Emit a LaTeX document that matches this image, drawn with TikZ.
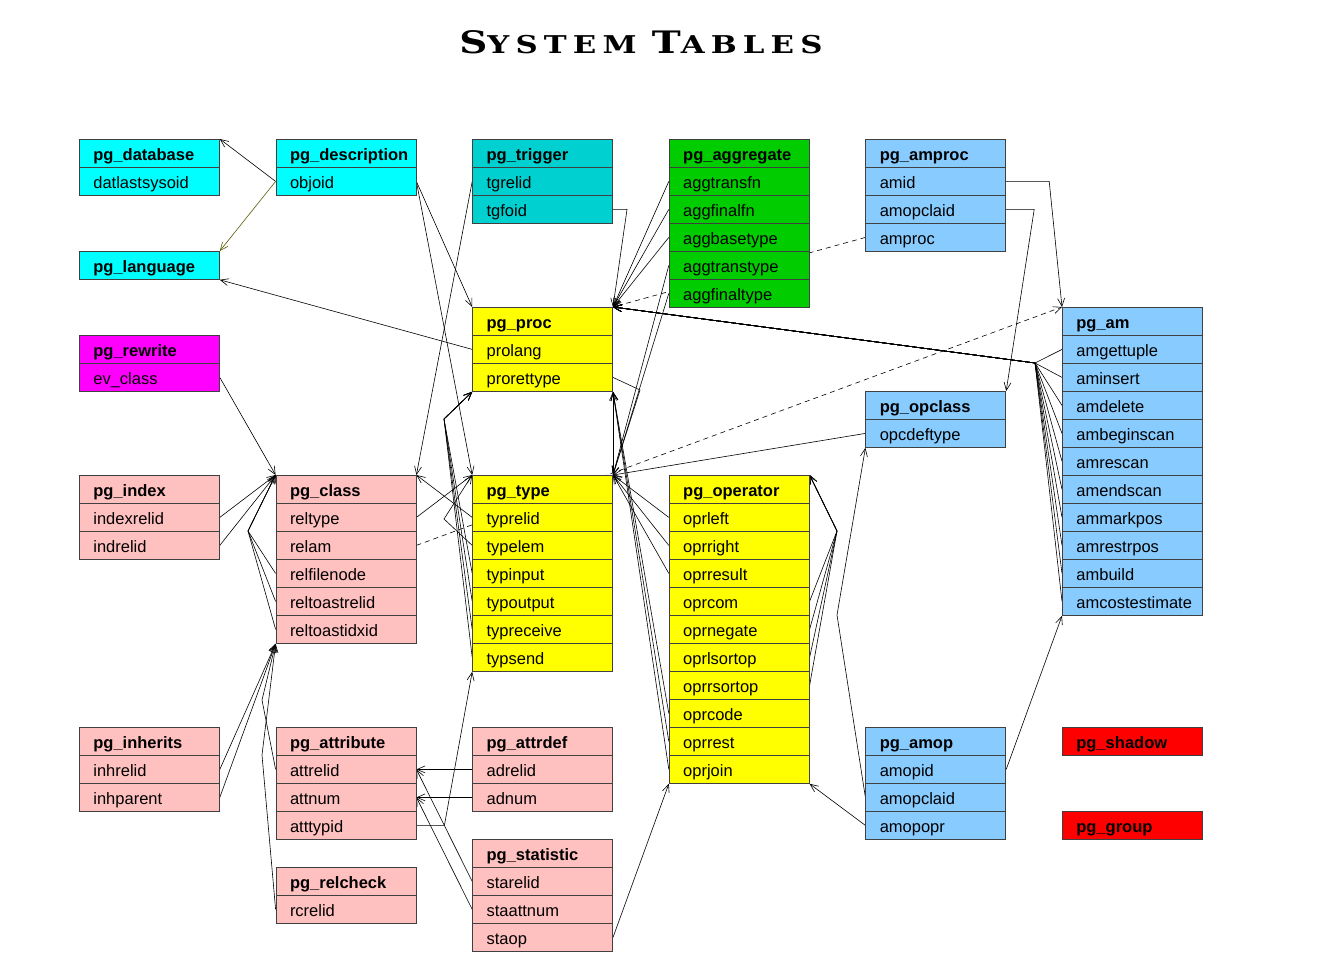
\documentclass[tikz,border=0pt]{standalone}
\usepackage{fontspec}
\usepackage{graphicx}
\setmainfont{Liberation Sans}
\newfontfamily\titlefont[LetterSpace=20]{DejaVu Serif}
\usetikzlibrary{arrows.meta}
\pgfdeclarelayer{bg}
\pgfsetlayers{bg,main}
\definecolor{cyanT}{HTML}{00FFFF}
\definecolor{tealT}{HTML}{00D0D0}
\definecolor{greenT}{HTML}{00CC00}
\definecolor{blueT}{HTML}{88CCFF}
\definecolor{yellowT}{HTML}{FFFF00}
\definecolor{magT}{HTML}{FF00FF}
\definecolor{pinkT}{HTML}{FFC0C0}
\definecolor{redT}{HTML}{FF0000}
\definecolor{oliveL}{HTML}{5A5A00}
\newcommand\mktab[6]{%
  \node[hdrbox, fill=#4] (#1-0) at ({79+196.6*#2},{139+28*#3}) {#5};
  \foreach \ff [count=\ii] in {#6} {%
    \node[fldbox, fill=#4] (#1-\ii) at ({79+196.6*#2},{139+28*(#3+\ii)}) {\ff};}%
}
\begin{document}
\begin{tikzpicture}[x=1pt,y=-1pt,
  rowbox/.style={draw=black!75, line width=0.8pt, anchor=north west,
    minimum width=140pt, minimum height=28pt, text width=112pt,
    inner xsep=14pt, inner ysep=0pt, align=left, text height=14pt, text depth=0pt},
  hdrbox/.style={rowbox, font=\fontsize{16.5}{18}\selectfont\bfseries},
  fldbox/.style={rowbox, font=\fontsize{16.5}{18}\selectfont},
  link/.style={draw=black, line width=0.6pt, -{Straight Barb[length=8pt,width=7pt]}},
  dlink/.style={link, dash pattern=on 5pt off 4pt}]
\begin{pgfonlayer}{bg}
\fill[white] (0,0) rectangle (1323,961);
\end{pgfonlayer}
\useasboundingbox (0,0) rectangle (1323,961);

% title
\node[anchor=base] (title) at (641,53) {\scalebox{1.08}[0.86]{\titlefont\bfseries
  {\fontsize{36}{36}\selectfont S}{\fontsize{28.5}{28.5}\selectfont YSTEM}\hspace{14pt}{\fontsize{36}{36}\selectfont T}{\fontsize{28.5}{28.5}\selectfont ABLES}}};

% tables
\mktab{db}{0}{0}{cyanT}{pg\_database}{datlastsysoid}
\mktab{desc}{1}{0}{cyanT}{pg\_description}{objoid}
\mktab{trig}{2}{0}{tealT}{pg\_trigger}{tgrelid,tgfoid}
\mktab{agg}{3}{0}{greenT}{pg\_aggregate}{aggtransfn,aggfinalfn,aggbasetype,aggtranstype,aggfinaltype}
\mktab{amproc}{4}{0}{blueT}{pg\_amproc}{amid,amopclaid,amproc}
\node[hdrbox, fill=cyanT] (lang-0) at (79,251) {pg\_language};
\mktab{rw}{0}{7}{magT}{pg\_rewrite}{ev\_class}
\mktab{proc}{2}{6}{yellowT}{pg\_proc}{prolang,prorettype}
\mktab{am}{5}{6}{blueT}{pg\_am}{amgettuple,aminsert,amdelete,ambeginscan,amrescan,amendscan,ammarkpos,amrestrpos,ambuild,amcostestimate}
\mktab{opc}{4}{9}{blueT}{pg\_opclass}{opcdeftype}
\mktab{idx}{0}{12}{pinkT}{pg\_index}{indexrelid,indrelid}
\mktab{cls}{1}{12}{pinkT}{pg\_class}{reltype,relam,relfilenode,reltoastrelid,reltoastidxid}
\mktab{typ}{2}{12}{yellowT}{pg\_type}{typrelid,typelem,typinput,typoutput,typreceive,typsend}
\mktab{opr}{3}{12}{yellowT}{pg\_operator}{oprleft,oprright,oprresult,oprcom,oprnegate,oprlsortop,oprrsortop,oprcode,oprrest,oprjoin}
\mktab{inh}{0}{21}{pinkT}{pg\_inherits}{inhrelid,inhparent}
\mktab{att}{1}{21}{pinkT}{pg\_attribute}{attrelid,attnum,atttypid}
\mktab{adef}{2}{21}{pinkT}{pg\_attrdef}{adrelid,adnum}
\mktab{amop}{4}{21}{blueT}{pg\_amop}{amopid,amopclaid,amopopr}
\node[hdrbox, fill=redT] (shd-0) at (1062,727) {pg\_shadow};
\node[hdrbox, fill=redT] (grp-0) at (1062,811) {pg\_group};
\mktab{rchk}{1}{26}{pinkT}{pg\_relcheck}{rcrelid}
\mktab{stat}{2}{25}{pinkT}{pg\_statistic}{starelid,staattnum,staop}

% bend points
\coordinate (vAm) at (1035,363);
\coordinate (vOpr) at (837,531);
\coordinate (vAmop) at (837,615);
\coordinate (vCls) at (248,531);
\coordinate (vTyp) at (444,419);
\coordinate (vElem) at (444,519);
\coordinate (vAtt) at (262,700);
\coordinate (vChk) at (262,755);
\coordinate (vRet) at (640,390);

\begin{pgfonlayer}{bg}
\draw[link] (desc-1.west) -- (db-0.north east);
\draw[link, draw=oliveL] (desc-1.west) -- (lang-0.north east);
\draw[link] (desc-1.east) -- (proc-0.north west);
\draw[link] (desc-1.east) -- (typ-0.north west);
\draw[link] (trig-1.west) -- (cls-0.north east);
\draw[link] (trig-2.east) -- ++(14,0) -- (proc-0.north east);
\foreach \k in {1,2,3} \draw[link] (agg-\k.west) -- (proc-0.north east);
\foreach \k in {4,5} \draw[link] (agg-\k.west) -- (typ-0.north east);
\draw[dlink] (amproc-3.west) -- (proc-0.north east);
\draw[link] (amproc-1.east) -- ++(43,0) -- (am-0.north west);
\draw[link] (amproc-2.east) -- ++(28,0) -- (opc-0.north east);
\draw[link] (proc-1.west) -- (lang-0.south east);
\draw[link] (proc-2.east) -- (vRet) -- (typ-0.north east);
\foreach \k in {1,...,10} \draw[link] (am-\k.west) -- (vAm) -- (proc-0.north east);
\draw[dlink] (cls-2.east) -- (am-0.north west);
\draw[link] (opc-1.west) -- (typ-0.north east);
\draw[link] (rw-1.east) -- (cls-0.north west);
\foreach \k in {1,2} \draw[link] (idx-\k.east) -- (cls-0.north west);
\foreach \k in {3,4,5} \draw[link] (cls-\k.west) -- (vCls) -- (cls-0.north west);
\draw[link] (cls-1.east) -- (typ-0.north west);
\draw[link] (typ-1.west) -- (cls-0.north east);
\draw[link] (typ-2.west) -- (vElem) -- (typ-0.north west);
\foreach \k in {3,4,5,6} \draw[link] (typ-\k.west) -- (vTyp) -- (proc-2.south west);
\foreach \k in {1,2,3} \draw[link] (opr-\k.west) -- (typ-0.north east);
\foreach \k in {8,9,10} \draw[link] (opr-\k.west) -- (proc-2.south east);
\draw[link] (typ-0.north east) -- (proc-2.south east);
\foreach \k in {4,5,6,7} \draw[link] (opr-\k.east) -- (vOpr) -- (opr-0.north east);
\draw[link] (amop-1.east) -- (am-10.south west);
\draw[link] (amop-2.west) -- (vAmop) -- (opc-1.south west);
\draw[link] (amop-3.west) -- (opr-10.south east);
\foreach \k in {1,2} \draw[link] (inh-\k.east) -- (cls-5.south west);
\draw[link] (att-1.west) -- (vAtt) -- (cls-5.south west);
\draw[link] (rchk-1.west) -- (vChk) -- (cls-5.south west);
\draw[link] (att-3.east) -- ++(28,0) -- (typ-6.south west);
\draw[link] (adef-1.west) -- (att-1.east);
\draw[link] (adef-2.west) -- (att-2.east);
\draw[link] (stat-1.west) -- (att-1.east);
\draw[link] (stat-2.west) -- (att-2.east);
\draw[link] (stat-3.east) -- (opr-10.south west);
\end{pgfonlayer}
\end{tikzpicture}
\end{document}
